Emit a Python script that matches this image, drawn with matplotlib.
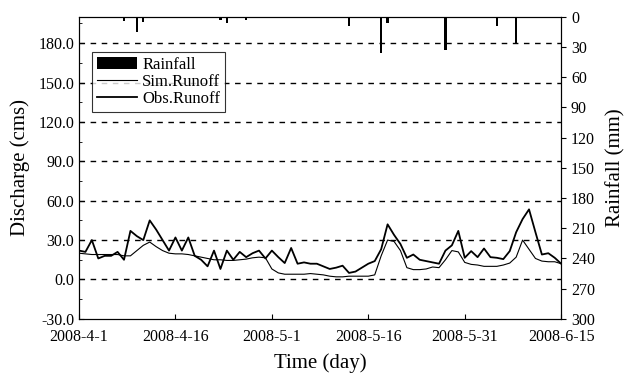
import matplotlib.pyplot as plt
import numpy as np
import pandas as pd
from matplotlib.ticker import MultipleLocator, FormatStrFormatter

plt.rcParams['font.family'] = ['Liberation Serif', 'DejaVu Serif']

# daily series 2008-4-1 .. 2008-6-15
dates = pd.date_range("2008-04-01", "2008-06-15", freq="D")

obs_runoff = [22, 21, 30, 16, 18, 18, 21, 15, 37, 33, 30, 45, 38, 30, 22, 32,
              22, 32, 18, 15, 10, 22, 8, 22, 15, 21, 17, 20, 22, 16, 22, 17,
              12.5, 24, 12, 13, 12, 12, 10, 8, 9, 10.5, 5, 6, 9, 12, 14, 23,
              42, 34, 27, 16.5, 19, 15, 14, 13, 12, 22, 26, 37, 16.5, 21.6, 17,
              23.6, 17, 16.5, 15.5, 21.6, 36, 46, 53.4, 36, 19, 20, 16.5, 12]

sim_runoff = [20, 19.5, 19, 19, 19, 19, 19, 18, 18, 22, 26, 28.5, 25, 22, 20,
              19.5, 19.5, 19, 18, 17, 16, 15, 15, 14.5, 14.5, 15, 15.5, 16.5,
              17, 16.5, 8, 5, 4, 4, 4, 4, 4.5, 4, 3.5, 2.5, 2, 2, 2.5, 2.5, 2.5,
              2.5, 3.5, 18, 30, 29, 22, 9, 7.5, 7.5, 8, 9.5, 9, 15, 22, 21, 13,
              11.5, 11, 10, 10, 10, 11, 12.5, 17, 30, 23, 16, 14, 13.5, 13.5, 12]

rain_days = [5, 6, 7, 9, 10, 12, 22, 23, 26, 36, 42, 44, 47, 48, 57, 60, 65, 68]
rain_mm = [1, 1, 4, 15, 5, 1, 3, 6, 3, 1, 9, 1, 36, 6, 33, 1, 9, 27]

rainfall = np.zeros(len(dates))
rainfall[rain_days] = rain_mm

fig = plt.figure(figsize=(6.27, 3.76), dpi=100)
ax = fig.add_axes([0.126, 0.152, 0.769, 0.803])

ax.plot(dates, sim_runoff, color='black', lw=0.8, label='Sim.Runoff')
ax.plot(dates, obs_runoff, color='black', lw=1.3, label='Obs.Runoff')

ax.set_ylim(-30, 200)
ax.set_xlim(dates[0], dates[-1])
ax.yaxis.set_minor_locator(MultipleLocator(15))
ax.yaxis.set_major_formatter(FormatStrFormatter('%.1f'))
ax.set_yticks(np.arange(-30, 181, 30))
for v in np.arange(0, 181, 30):
    ax.axhline(v, color='black', lw=1.0, ls=(0, (4, 4)))

ticks = pd.date_range("2008-04-01", "2008-06-15", freq="15D")
ax.set_xticks(ticks)
ax.set_xticklabels([f"{d.year}-{d.month}-{d.day}" for d in ticks])
ax.tick_params(axis='both', direction='in', labelsize=11.5)
ax.tick_params(axis='y', which='minor', direction='in', length=2)
ax.tick_params(axis='x', pad=7)

ax.set_xlabel("Time (day)", fontsize=15, labelpad=6)
ax.set_ylabel("Discharge (cms)", fontsize=15, labelpad=6)

ax2 = ax.twinx()
ax2.bar(dates, rainfall, width=0.35, color='black', label='Rainfall')
ax2.set_ylim(300, 0)
ax2.set_yticks(np.arange(0, 301, 30))
ax2.tick_params(axis='y', direction='out', labelsize=11.5)
ax2.set_ylabel("Rainfall (mm)", fontsize=15, labelpad=8)

h1, l1 = ax.get_legend_handles_labels()
h2, l2 = ax2.get_legend_handles_labels()
leg = ax.legend(h2 + h1, l2 + l1, loc='upper left', bbox_to_anchor=(0.027, 0.884),
                borderaxespad=0, fontsize=12, frameon=True, fancybox=False,
                edgecolor='black', handlelength=2.4, handletextpad=0.3,
                borderpad=0.3, labelspacing=0.05)
leg.get_frame().set_linewidth(0.8)

fig.savefig("out.png", dpi=100)
